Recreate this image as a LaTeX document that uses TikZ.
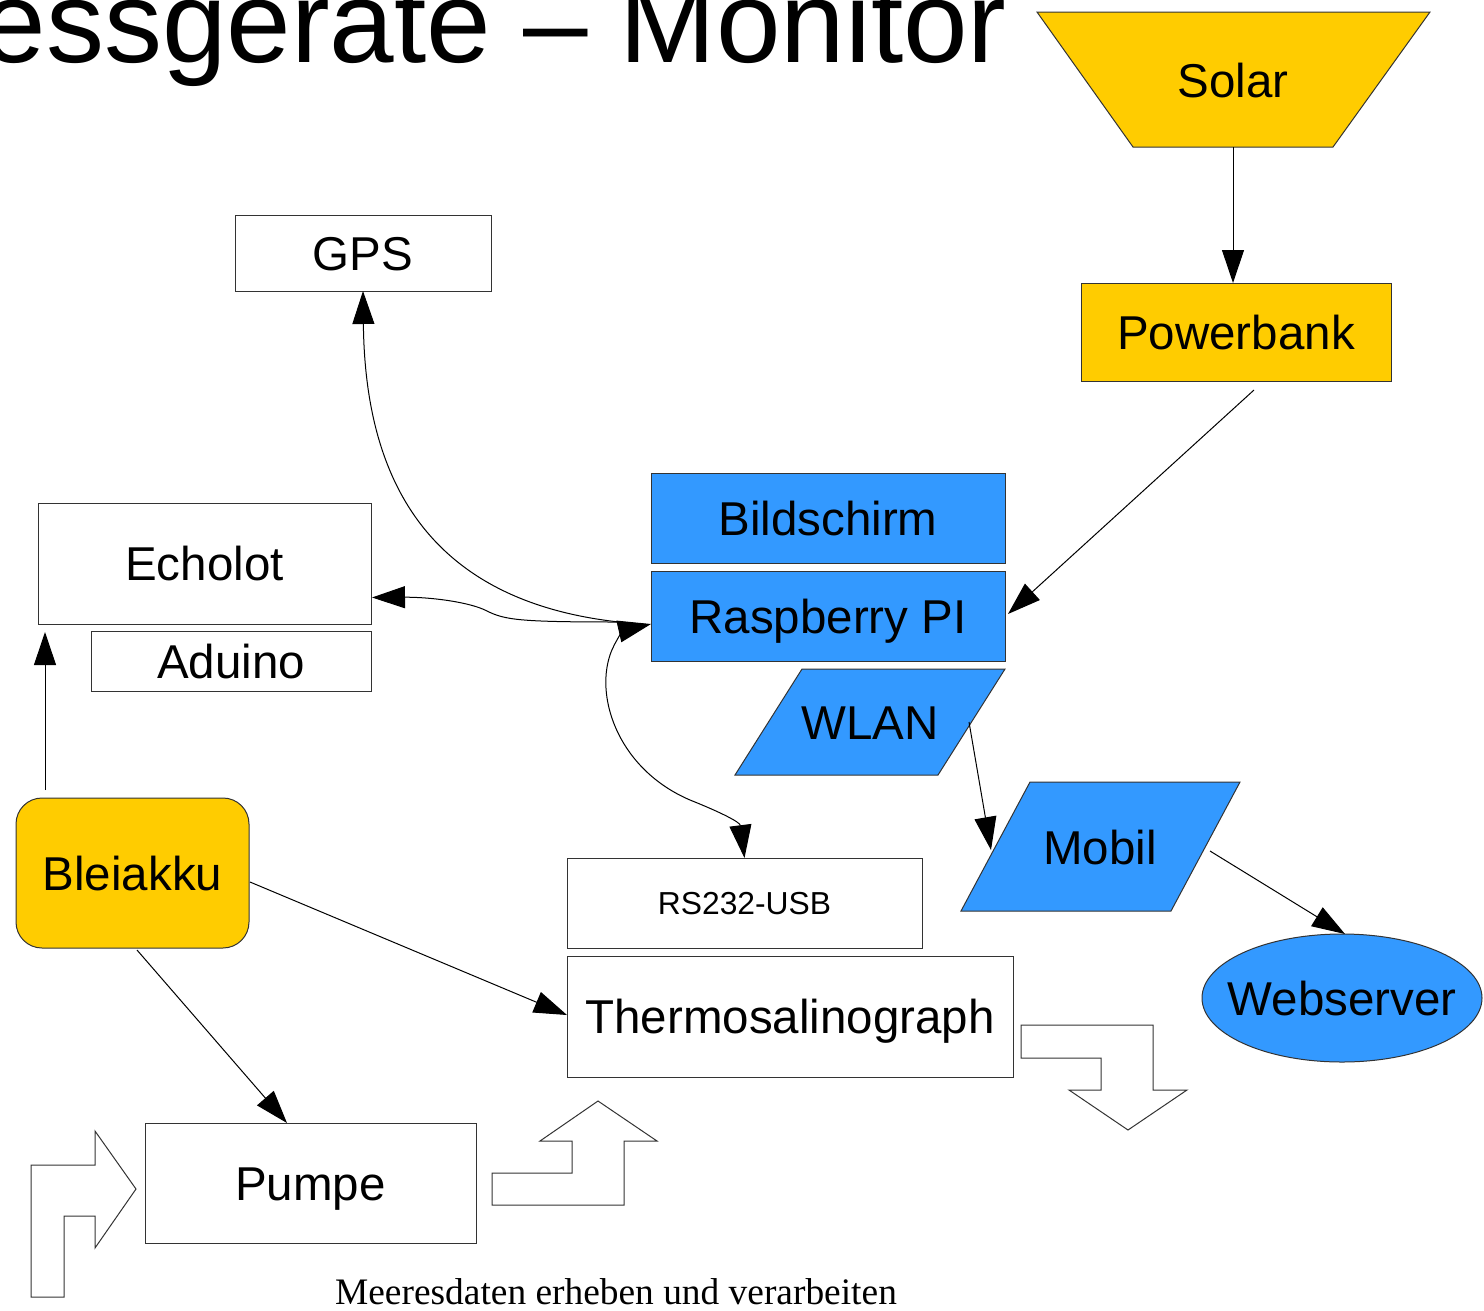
\documentclass[tikz,border=0pt]{standalone}
\usepackage{fontspec}
\setmainfont{Liberation Serif}
\newfontfamily\lsans{Liberation Sans}
\usetikzlibrary{arrows.meta,shapes.geometric,calc}
\definecolor{yel}{HTML}{FFCC00}
\definecolor{blu}{HTML}{3399FF}
\definecolor{edge}{HTML}{333333}
\begin{document}
\begin{tikzpicture}[x=1pt,y=-1pt,
  box/.style={draw=edge, line width=1pt, inner sep=0pt, outer sep=0pt,
    font=\lsans\fontsize{47.5}{50}\selectfont, text height=34pt, text depth=0pt, align=center},
  txt/.style={inner sep=0pt, font=\lsans\fontsize{47.5}{50}\selectfont, text height=34pt, text depth=0pt},
  shapeline/.style={draw=edge, line width=1pt},
  conn/.style={draw=black, line width=1pt, -{Triangle[length=33pt,width=22pt]}},
  bothconn/.style={draw=black, line width=1pt, {Triangle[length=33pt,width=22pt]}-{Triangle[length=33pt,width=22pt]}},
  blockarrow/.style={draw=edge, line width=1pt, fill=white, line join=miter}]
\useasboundingbox (0,0) rectangle (1484,1310);
\clip (0,0) rectangle (1484,1310);

% title
\node[anchor=base east, inner sep=0pt, font=\lsans\fontsize{116}{120}\selectfont] (title) at (1007,62) {Messgeräte – Monitor};

% Solar trapezoid
\draw[shapeline, fill=yel] (1037,12) -- (1430,12) -- (1333,147) -- (1133,147) -- cycle;
\node[txt] (solar) at (1233,80) {Solar};
\coordinate (solarb) at (1233,147);

\node[box, fill=yel, minimum width=310, minimum height=98] (power) at (1236,332) {Powerbank};
\node[box, fill=white, minimum width=256, minimum height=76] (gps) at (363,253) {GPS};
\node[box, fill=white, minimum width=333, minimum height=121] (echo) at (204.5,563.5) {Echolot};
\node[box, fill=white, minimum width=280, minimum height=60] (adu) at (231,661) {Aduino};
\node[box, fill=blu, minimum width=354, minimum height=90] (bild) at (828,518) {Bildschirm};
\node[box, fill=blu, minimum width=354, minimum height=90] (rpi) at (828,616) {Raspberry PI};

% WLAN parallelogram
\draw[shapeline, fill=blu] (802,669) -- (1005,669) -- (938,775) -- (735,775) -- cycle;
\node[txt] (wlan) at (870,722) {WLAN};
% Mobil parallelogram
\draw[shapeline, fill=blu] (1030,782) -- (1240,782) -- (1171,911) -- (961,911) -- cycle;
\node[txt] (mobil) at (1100,847) {Mobil};

\node[box, fill=blu, ellipse, inner xsep=-25pt, minimum width=280, minimum height=128] (web) at (1342,998) {Webserver};
\node[box, fill=yel, rounded corners=26pt, minimum width=233, minimum height=150] (blei) at (132.5,873) {Bleiakku};
\node[box, fill=white, minimum width=355, minimum height=90, font=\lsans\fontsize{31.8}{34}\selectfont, text height=23pt] (rs) at (744.5,903) {RS232-USB};
\node[box, fill=white, minimum width=446, minimum height=121] (thermo) at (790,1016.5) {Thermosalinograph};
\node[box, fill=white, minimum width=331, minimum height=120] (pumpe) at (310.5,1183) {Pumpe};

% footer
\node[anchor=base, inner sep=0pt, font=\fontsize{37.4}{40}\selectfont] (footer) at (616,1304) {Meeresdaten erheben und verarbeiten};

% block arrows
\draw[blockarrow] (31,1297) -- (31,1165) -- (95,1165) -- (95,1131) -- (136,1189) -- (95,1248) -- (95,1216) -- (64,1216) -- (64,1297) -- cycle;
\draw[blockarrow] (492,1205) -- (492,1173) -- (572,1173) -- (572,1141) -- (540,1141) -- (598,1101) -- (657,1141) -- (624,1141) -- (624,1205) -- cycle;
\draw[blockarrow] (1021,1025) -- (1153,1025) -- (1153,1090) -- (1187,1090) -- (1128,1130) -- (1069,1090) -- (1101,1090) -- (1101,1058) -- (1021,1058) -- cycle;

% connectors
\draw[conn] (solarb) -- (solarb |- power.north);
\draw[conn] ($(power.south)+(18,9)$) -- ($(rpi.east)+(3,-2)$);
\draw[conn] ($(rpi.west)+(-32,6)$) .. controls (420,600) and (365,470) .. (gps.south);
\draw[conn] ($(rpi.west)+(-32,6)$) .. controls (520,622) and (505,620) .. (487,611) .. controls (470,602) and (430,597) .. ($(echo.east)+(1,34)$);
\draw[bothconn] (rs.north) .. controls (740,822) and (720,812) .. (690,800) .. controls (620,770) and (595,700) .. (610,655) .. controls (615,640) and (625,630) .. ($(rpi.west)+(0,8)$);
\draw[conn] ($(blei.north west)+(29,-8)$) -- ($(echo.south west)+(7,8)$);
\draw[conn] ($(blei.east)+(1,9)$) -- ($(thermo.west)+(0,-1.5)$);
\draw[conn] ($(blei.south)+(4.5,2)$) -- ($(pumpe.north)+(-23.5,0)$);
\draw[conn] ($(wlan)+(99,0)$) -- ($(mobil)+(-109,3)$);
\draw[conn] ($(mobil)+(110,4)$) -- ($(web.north)+(3,0)$);
\end{tikzpicture}
\end{document}
